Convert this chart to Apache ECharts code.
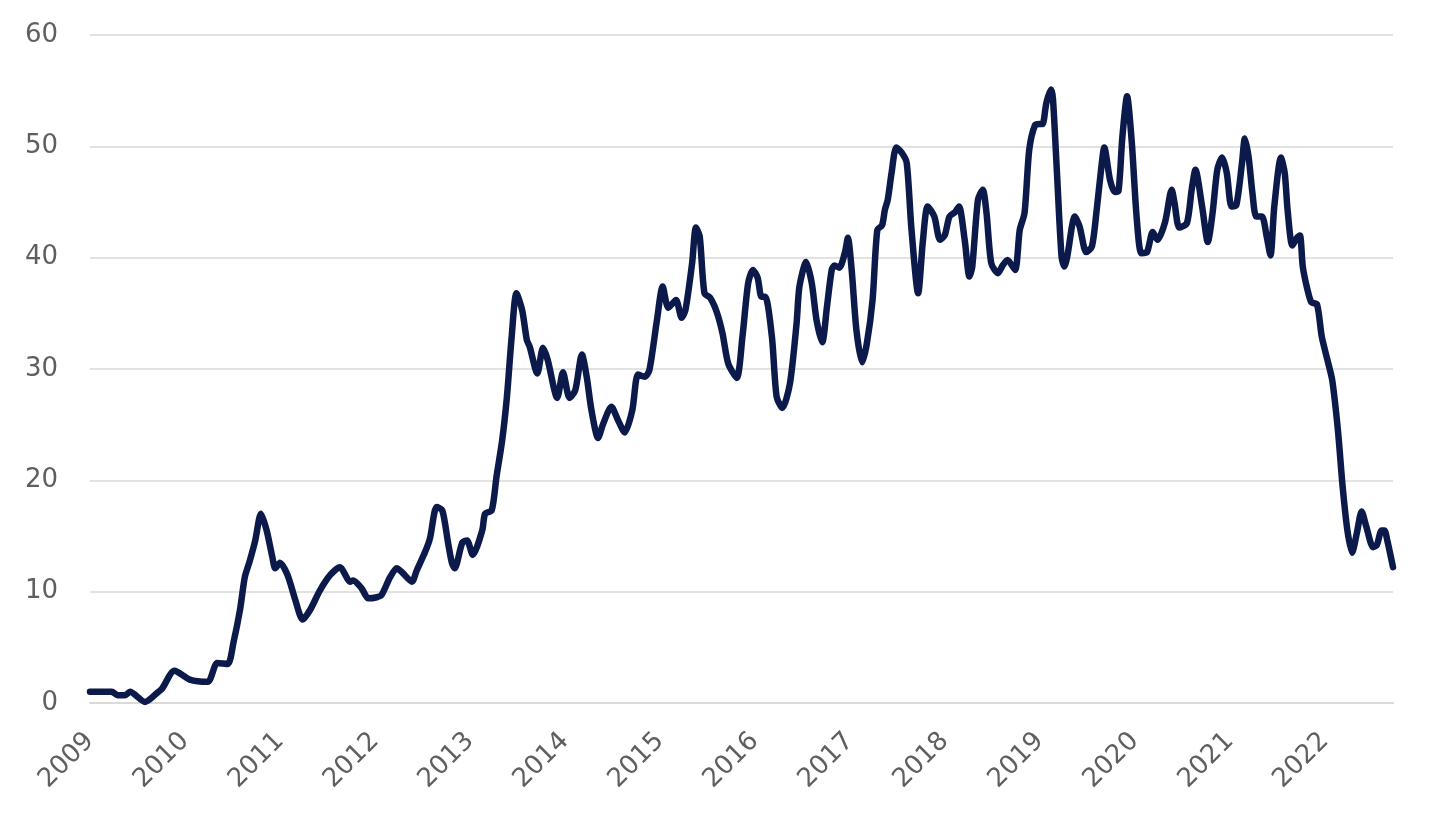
<!DOCTYPE html>
<html>
<head>
<meta charset="utf-8">
<script src="https://cdn.jsdelivr.net/npm/echarts@6/dist/echarts.min.js"></script>
<style>
html,body{margin:0;padding:0;background:#fff;}
#chart{width:1456px;height:824px;}
</style>
</head>
<body>
<div id="chart"></div>
<script>
// Time (decimal years) and values
const years = [
2009.00,2009.23,2009.29,2009.37,2009.42,2009.58,2009.72,2009.76,2009.89,2010.05,
2010.24,2010.34,2010.45,2010.51,2010.58,2010.63,2010.68,2010.74,2010.80,2010.86,
2010.92,2010.95,2011.00,2011.08,2011.16,2011.24,2011.32,2011.42,2011.53,2011.63,
2011.74,2011.77,2011.86,2011.93,2012.02,2012.07,2012.16,2012.23,2012.29,2012.39,
2012.44,2012.53,2012.58,2012.65,2012.71,2012.77,2012.81,2012.84,2012.92,2012.97,
2013.03,2013.13,2013.16,2013.23,2013.28,2013.34,2013.39,2013.44,2013.49,2013.55,
2013.60,2013.63,2013.71,2013.77,2013.82,2013.92,2013.98,2014.05,2014.11,2014.18,
2014.23,2014.28,2014.35,2014.40,2014.49,2014.56,2014.63,2014.71,2014.77,2014.84,
2014.89,2014.97,2015.03,2015.09,2015.17,2015.23,2015.27,2015.34,2015.38,2015.42,
2015.47,2015.53,2015.60,2015.66,2015.72,2015.81,2015.87,2015.93,2015.98,2016.03,
2016.07,2016.11,2016.18,2016.23,2016.29,2016.37,2016.44,2016.47,2016.54,2016.60,
2016.65,2016.71,2016.76,2016.81,2016.84,2016.89,2016.95,2016.98,2017.02,2017.07,
2017.13,2017.18,2017.24,2017.29,2017.34,2017.37,2017.40,2017.44,2017.49,2017.55,
2017.60,2017.65,2017.72,2017.77,2017.82,2017.89,2017.95,2018.00,2018.05,2018.11,
2018.15,2018.21,2018.26,2018.29,2018.35,2018.40,2018.44,2018.49,2018.56,2018.61,
2018.66,2018.74,2018.79,2018.84,2018.89,2018.95,2019.00,2019.03,2019.07,2019.12,
2019.14,2019.18,2019.23,2019.26,2019.29,2019.37,2019.42,2019.49,2019.55,2019.60,
2019.65,2019.68,2019.74,2019.79,2019.83,2019.87,2019.92,2019.97,2020.02,2020.07,
2020.13,2020.19,2020.24,2020.32,2020.39,2020.42,2020.47,2020.55,2020.60,2020.64,
2020.71,2020.77,2020.82,2020.87,2020.92,2020.97,2021.02,2021.07,2021.13,2021.16,
2021.20,2021.24,2021.28,2021.34,2021.39,2021.43,2021.47,2021.54,2021.58,2021.61,
2021.66,2021.71,2021.74,2021.77,2021.82,2021.86,2021.92,2021.97,2022.03,2022.08,
2022.14,2022.19,2022.24,2022.29,2022.34,2022.39,2022.44,2022.51,2022.55,2022.60,
2022.63,2022.66,2022.72
];
const values = [
1.0,1.0,0.7,0.7,1.0,0.1,1.0,1.3,2.9,2.1,
1.9,3.6,3.5,5.4,8.4,11.3,12.7,14.6,17.0,15.5,
13.1,12.1,12.6,11.5,9.3,7.5,8.4,10.1,11.5,12.2,
10.9,11.0,10.3,9.4,9.5,9.7,11.3,12.1,11.7,10.9,
11.9,13.6,14.8,17.6,17.3,14.4,12.6,12.1,14.4,14.6,
13.3,15.5,17.0,17.3,20.3,23.6,27.5,32.9,36.8,35.3,
32.6,32.0,29.6,31.9,30.8,27.4,29.7,27.4,28.1,31.3,
29.3,26.3,23.8,25.0,26.6,25.4,24.3,26.3,29.5,29.3,
29.9,34.4,37.4,35.5,36.2,34.6,35.3,39.5,42.7,41.9,
36.8,36.4,35.1,33.2,30.5,29.2,32.9,37.7,38.9,38.2,
36.5,36.5,32.9,27.5,26.5,28.7,34.1,37.4,39.6,37.7,
34.4,32.4,35.6,38.9,39.3,39.1,40.5,41.8,38.9,33.5,
30.6,32.3,36.2,42.5,42.9,44.3,45.2,47.6,49.9,49.4,
48.5,42.5,36.8,41.5,44.6,43.7,41.6,42.0,43.7,44.1,
44.6,41.6,38.3,39.2,45.2,46.1,44.0,39.5,38.6,39.3,
39.8,38.9,42.5,44.0,49.7,51.9,52.0,52.0,53.9,55.1,
54.2,47.9,40.1,39.2,40.1,43.7,42.8,40.5,41.0,44.3,
48.2,49.9,47.0,45.9,46.0,50.8,54.5,50.3,43.7,40.4,
40.5,42.3,41.6,43.2,46.1,44.9,42.7,43.1,46.1,47.9,
44.6,41.4,44.0,47.9,49.0,47.6,44.6,44.7,48.5,50.7,
49.0,45.8,43.7,43.7,41.9,40.2,44.6,49.0,47.6,44.3,
41.1,41.8,42.0,39.2,37.1,36.0,35.8,32.9,30.8,29.0,
24.5,19.4,15.5,13.5,15.3,17.2,15.8,14.0,14.2,15.5,
15.5,14.6,12.2
];
const yTicks = [0, 10, 20, 30, 40, 50, 60];

const data = years.map((y, i) => [y, values[i]]);
const chart = echarts.init(document.getElementById('chart'), null, {renderer: 'canvas'});
const labelFont = {color: '#5f5f5f', fontSize: 26, fontFamily: 'DejaVu Sans', fontWeight: 'normal'};
chart.setOption({
  animation: false,
  backgroundColor: '#ffffff',
  grid: {left: 90, right: 63, top: 35, bottom: 121},
  xAxis: {
    type: 'value',
    min: 2009,
    max: 2022.72,
    interval: 1,
    axisLine: {show: true, lineStyle: {color: '#d9d9d9', width: 2}},
    axisTick: {show: false},
    splitLine: {show: false},
    axisLabel: Object.assign({
      rotate: 45,
      margin: 34,
      showMaxLabel: false,
      formatter: v => (Number.isInteger(Math.round(v*1000)/1000) ? String(Math.round(v)) : '')
    }, labelFont)
  },
  yAxis: {
    type: 'value',
    min: yTicks[0],
    max: yTicks[yTicks.length - 1],
    interval: 10,
    axisLine: {show: false},
    axisTick: {show: false},
    splitLine: {show: true, lineStyle: {color: '#d9d9d9', width: 1.5}},
    axisLabel: Object.assign({margin: 32}, labelFont)
  },
  series: [{
    type: 'line',
    data: data,
    showSymbol: false,
    smooth: 0.25,
    lineStyle: {color: '#0b1a4a', width: 6.5, cap: 'round', join: 'round'}
  }]
});
</script>
</body>
</html>
